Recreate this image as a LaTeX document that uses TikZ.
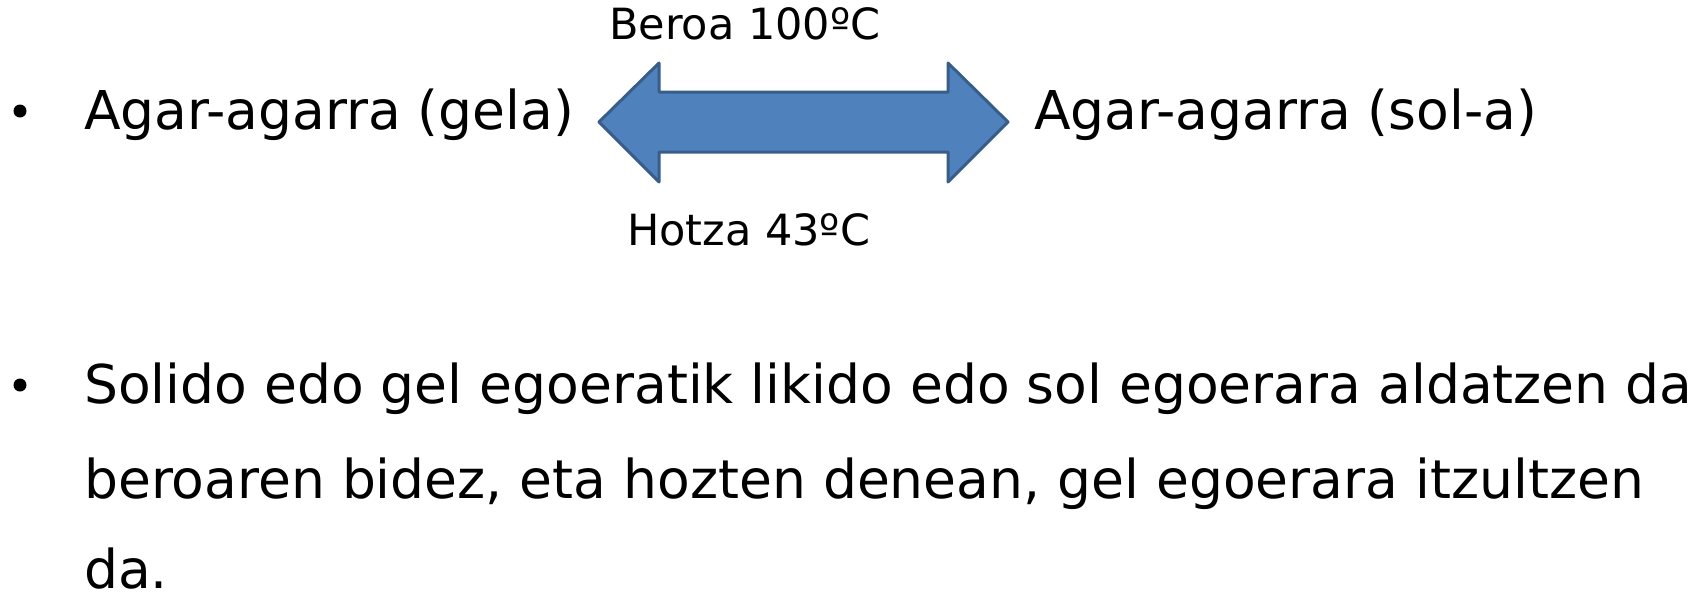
\documentclass[tikz,border=0pt]{standalone}
\usepackage{fontspec}
\setmainfont{DejaVu Sans}
\usetikzlibrary{positioning}

\definecolor{arrowfill}{HTML}{4F81BD}
\definecolor{arrowline}{HTML}{385D8A}

\begin{document}
\begin{tikzpicture}[x=1pt,y=-1pt,
                    big text/.style={inner sep=0,anchor=base west,font=\fontsize{53.5}{62}\selectfont},
                    small text/.style={inner sep=0,anchor=base west,font=\fontsize{43}{50}\selectfont},
                    dot/.style={circle,fill=black,inner sep=0,minimum size=13pt}]
  \useasboundingbox (0,0) rectangle (1694,600);

  % first bullet
  \node[dot] (b1) at (20,111) {};
  \node[big text] (gel) at (84,129) {Agar-agarra (gela)};
  \node[big text] (sol) at (1034,129) {Agar-agarra (sol-a)};
  \node[small text] (hot) at (609,39) {Beroa 100ºC};
  \node[small text] (cold) at (627,245) {Hotza 43ºC};

  % double arrow between the two states
  \coordinate (tipL) at (599,122);
  \coordinate (tipR) at (1008,122);
  \draw[arrowline,fill=arrowfill,line width=3pt,line join=round]
    (tipL) -- (659,63) -- (659,92) -- (948,92) -- (948,63) -- (tipR)
    -- (948,182) -- (948,152) -- (659,152) -- (659,182) -- cycle;

  % second bullet
  \node[dot] (b2) at (20,385) {};
  \node[big text] (line1) at (84,403) {Solido edo gel egoeratik likido edo sol egoerara aldatzen da};
  \node[big text] (line2) at (84,498) {beroaren bidez, eta hozten denean, gel egoerara itzultzen};
  \node[big text] (line3) at (84,588) {da.};
\end{tikzpicture}
\end{document}
